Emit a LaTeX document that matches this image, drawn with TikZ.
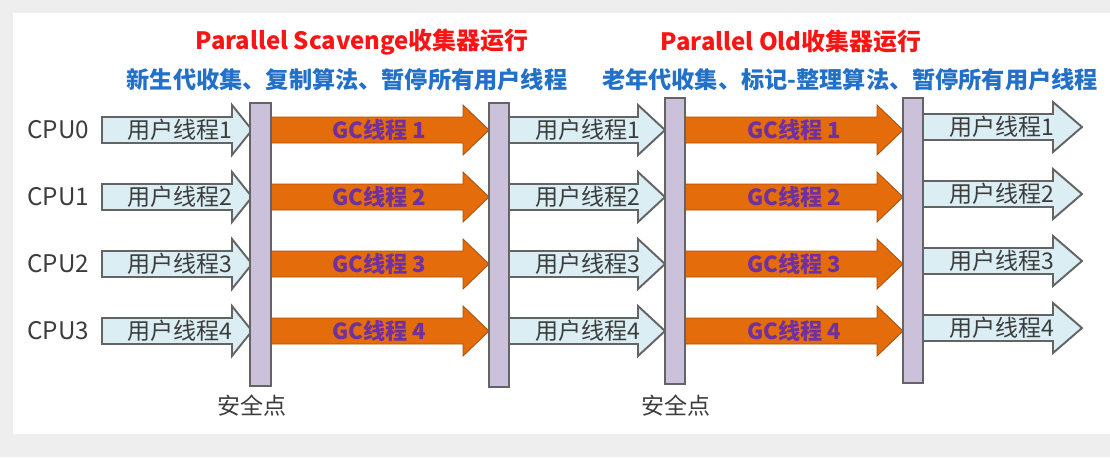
\documentclass[tikz,border=0pt]{standalone}
\usepackage{fontspec}
\setmainfont{Noto Sans CJK SC}
\usepackage{tikz}
\usetikzlibrary{calc}

\definecolor{pagegray}{RGB}{238,238,238}
\definecolor{titlered}{RGB}{250,20,20}
\definecolor{subblue}{RGB}{35,112,200}
\definecolor{threadblue}{RGB}{218,238,243}
\definecolor{gcorange}{RGB}{228,108,10}
\definecolor{gcpurple}{RGB}{112,48,160}
\definecolor{barlilac}{RGB}{204,193,218}
\definecolor{edgegray}{RGB}{100,100,100}
\definecolor{txtgray}{RGB}{60,60,60}

% block arrow: style, start x, head base x, tip x, centre y
\newcommand{\fatarrow}[5]{%
  \draw[#1] (#2,#5-13) -- (#3,#5-13) -- (#3,#5-25) -- (#4,#5)
    -- (#3,#5+25) -- (#3,#5+13) -- (#2,#5+13) -- cycle;}

\begin{document}
\begin{tikzpicture}[x=0.02cm,y=-0.02cm,
  userarr/.style={fill=threadblue,draw=edgegray,line width=1.1pt,line join=miter},
  gcarr/.style={fill=gcorange,draw=gcorange!75!black,line width=0.5pt},
  safebar/.style={fill=barlilac,draw=edgegray,line width=1.1pt},
  utext/.style={text=txtgray,inner sep=0pt,font=\fontsize{13.1pt}{15pt}\selectfont},
  gctext/.style={text=gcpurple,inner sep=0pt,font=\fontsize{12.6pt}{15pt}\selectfont\bfseries},
  cputext/.style={text=txtgray,inner sep=0pt,font=\fontsize{13.8pt}{16pt}\selectfont},
  titletext/.style={text=titlered,inner sep=0pt,font=\fontsize{13.6pt}{17pt}\selectfont\bfseries},
  subtext/.style={text=subblue,inner sep=0pt,font=\fontsize{13.2pt}{16pt}\selectfont\bfseries}]
  \useasboundingbox (0,0) rectangle (1110,457);
  \fill[pagegray] (0,0) rectangle (1110,457);
  \fill[white] (13,13) rectangle (1110,434);

  % headings
  \node[titletext] (ps) at (362,42) {Parallel Scavenge收集器运行};
  \node[titletext] (po) at (791,42) {Parallel Old收集器运行};
  \node[subtext] (psdesc) at (347,80) {新生代收集、复制算法、暂停所有用户线程};
  \node[subtext] (podesc) at (850,80) {老年代收集、标记-整理算法、暂停所有用户线程};

  % one row per cpu
  \foreach \c/\y [count=\i] in {0/130,1/197,2/264,3/331} {
    \node[cputext,anchor=west] (cpu\c) at (27,\y) {CPU\c};
    \fatarrow{userarr}{102}{232}{252}{\y}
    \node[utext,anchor=east] (ua\i) at (233,\y) {用户线程\i};
    \fatarrow{gcarr}{268}{463}{489}{\y}
    \node[gctext] (ga\i) at (379,\y) {GC线程 \i};
    \fatarrow{userarr}{509}{638}{665}{\y}
    \node[utext,anchor=east] (ub\i) at (641,\y) {用户线程\i};
    \fatarrow{gcarr}{683}{877}{903}{\y}
    \node[gctext] (gb\i) at (794,\y) {GC线程 \i};
    \fatarrow{userarr}{923}{1053}{1082}{\y-3}
    \node[utext,anchor=east] (uc\i) at (1055,\y-3) {用户线程\i};
  }

  % safe points
  \draw[safebar] (250,103) rectangle (271,386);
  \draw[safebar] (489,103) rectangle (509,387);
  \draw[safebar] (665,98) rectangle (685,384);
  \draw[safebar] (903,98) rectangle (923,383);
  \node[utext] (sp1) at (252,406) {安全点};
  \node[utext] (sp2) at (676,406) {安全点};
\end{tikzpicture}
\end{document}
